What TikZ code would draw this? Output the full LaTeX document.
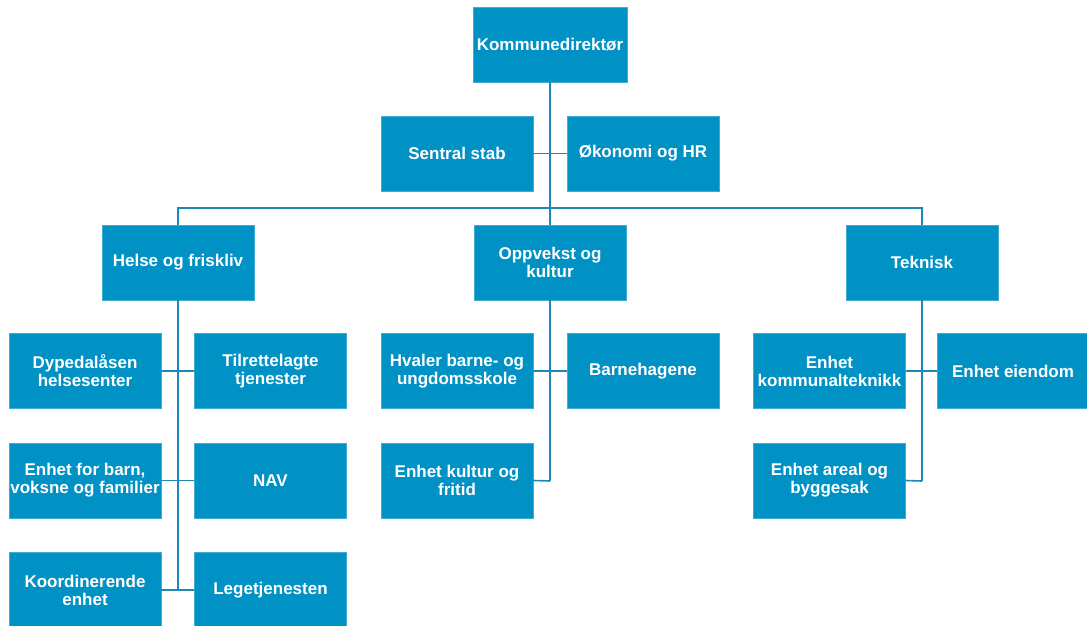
\documentclass[tikz,border=0pt]{standalone}
\usepackage{fontspec}
\setmainfont{Liberation Sans}
\definecolor{boxblue}{RGB}{0,145,197}
\definecolor{lineblue}{RGB}{28,136,180}
\begin{document}
\begin{tikzpicture}[x=1pt,y=-1pt,
  orgbox/.style={rectangle, fill=boxblue, draw=boxblue!75!white, line width=0.5pt,
    text=white, align=center, inner sep=0pt, minimum width=152pt, minimum height=75pt,
    font=\fontsize{17}{18}\selectfont\bfseries},
  conn/.style={draw=lineblue, line width=1.6pt}]
\useasboundingbox (0,0) rectangle (1087,626);
% top
\node[orgbox, minimum width=154pt] (kd) at (550,44.5) {Kommunedirektør};
\node[orgbox] (ss) at (457,153.5) {Sentral stab};
\node[orgbox] (ok) at (643,153.5) {Økonomi og HR};
% sectors
\node[orgbox] (helse) at (178,262.5) {Helse og friskliv};
\node[orgbox] (opp) at (550,262.5) {Oppvekst og\\kultur};
\node[orgbox] (tek) at (922,262.5) {Teknisk};
% Helse children
\node[orgbox] (dyp) at (85,371) {Dypedalåsen\\helsesenter};
\node[orgbox] (til) at (270.5,371) {Tilrettelagte\\tjenester};
\node[orgbox] (ebf) at (85,480.5) {Enhet for barn,\\voksne og familier};
\node[orgbox] (nav) at (270.5,480.5) {NAV};
\node[orgbox] (koo) at (85,590) {Koordinerende\\enhet};
\node[orgbox] (leg) at (270.5,590) {Legetjenesten};
% Oppvekst children
\node[orgbox] (hva) at (457,371) {Hvaler barne- og\\ungdomsskole};
\node[orgbox] (bar) at (643,371) {Barnehagene};
\node[orgbox] (ekf) at (457,480.5) {Enhet kultur og\\fritid};
% Teknisk children
\node[orgbox] (ekt) at (829.5,371) {Enhet\\kommunalteknikk};
\node[orgbox] (eie) at (1013,371) {Enhet eiendom};
\node[orgbox] (eak) at (829.5,480.5) {Enhet areal og\\byggesak};
% coordinates
\coordinate (bus) at (550,208);
\coordinate (oend) at (550,481);
\coordinate (tend) at (922,481);
\coordinate (hend) at (178,590);
% connectors top
\draw[conn] (kd.south) -- (opp.north);
\draw[conn] (ss.east) -- (ok.west);
\draw[conn] (helse.north) |- (bus) -| (tek.north);
% Helse
\draw[conn] (helse.south) -- (hend);
\draw[conn] (dyp.east) -- (til.west);
\draw[conn] (ebf.east) -- (nav.west);
\draw[conn] (koo.east) -- (leg.west);
% Oppvekst
\draw[conn] (opp.south) -- (oend);
\draw[conn] (hva.east) -- (bar.west);
\draw[conn] (ekf.east) -- (oend);
% Teknisk
\draw[conn] (tek.south) -- (tend);
\draw[conn] (ekt.east) -- (eie.west);
\draw[conn] (eak.east) -- (tend);
\end{tikzpicture}
\end{document}
